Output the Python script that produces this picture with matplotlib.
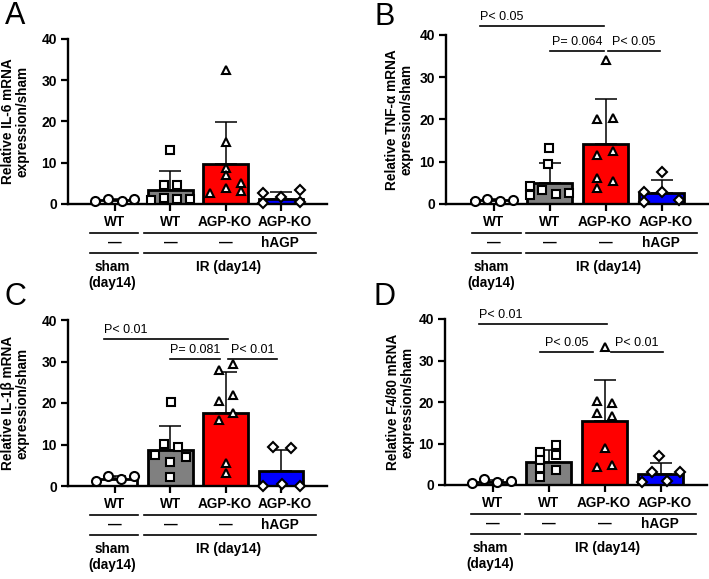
import matplotlib
matplotlib.use("Agg")
import matplotlib.pyplot as plt
from matplotlib.transforms import ScaledTranslation
import numpy as np

plt.rcParams['font.family'] = ['Liberation Sans', 'DejaVu Sans']

# ---------------- data ----------------
groups_genotype = ["WT", "WT", "AGP-KO", "AGP-KO"]
groups_treat = ["—", "—", "—", "hAGP"]
bar_colors = ["#ffffff", "#808080", "#ff0000", "#0000ff"]
markers = ["o", "s", "^", "D"]
marker_sizes = [6.5, 6.0, 6.0, 5.2]

ylabels = {
    "A": "Relative IL-6 mRNA\nexpression/sham",
    "B": "Relative TNF-\u03b1 mRNA\nexpression/sham",
    "C": "Relative IL-1\u03b2 mRNA\nexpression/sham",
    "D": "Relative F4/80 mRNA\nexpression/sham",
}

# bar means and upper SD
means_A = [0.9, 3.4, 9.6, 1.1]
sd_A = [0.2, 4.6, 10.3, 1.9]
means_B = [0.9, 5.0, 14.2, 2.7]
sd_B = [0.2, 4.6, 10.6, 3.0]
means_C = [1.8, 8.6, 17.6, 3.5]
sd_C = [0.6, 5.8, 9.8, 5.2]
means_D = [0.8, 5.5, 15.5, 2.65]
sd_D = [0.3, 2.9, 9.9, 2.55]

# individual points (values) and horizontal scatter offsets
pts_A = [
    [0.8, 1.3, 0.8, 1.1],
    [13.0, 4.6, 4.6, 0.9, 1.5, 1.1, 1.1],
    [32.4, 15.0, 8.8, 7.0, 3.9, 5.1, 3.2, 2.6],
    [2.7, 0.3, 1.8, 3.4, 0.55],
]
dx_A = [
    [-0.36, -0.12, 0.12, 0.34],
    [0.0, -0.12, 0.12, -0.35, -0.12, 0.12, 0.35],
    [0.0, 0.0, 0.0, 0.0, 0.0, 0.27, 0.27, -0.28],
    [-0.33, -0.33, 0.0, 0.34, 0.34],
]
pts_B = [
    [0.7, 1.1, 0.8, 1.0],
    [13.3, 9.4, 4.3, 2.1, 3.3, 2.4, 2.7],
    [34.2, 20.0, 20.3, 11.6, 12.6, 6.1, 5.4, 3.9],
    [2.9, 0.55, 2.9, 7.5, 0.95],
]
dx_B = [
    [-0.34, -0.12, 0.12, 0.34],
    [-0.01, -0.03, -0.35, -0.35, -0.13, 0.11, 0.34],
    [0.0, -0.15, 0.13, -0.15, 0.13, -0.15, 0.13, -0.15],
    [-0.32, -0.32, 0.0, 0.0, 0.32],
]
pts_C = [
    [1.2, 2.5, 1.7, 2.5],
    [20.2, 10.2, 9.5, 7.4, 7.1, 5.8, 2.2],
    [28.0, 29.4, 20.6, 22.0, 16.0, 17.6, 5.5, 3.1],
    [9.5, 9.2, 0.0, 0.6, 0.0],
]
dx_C = [
    [-0.35, -0.12, 0.11, 0.34],
    [0.02, -0.12, 0.14, -0.27, 0.28, 0.0, 0.0],
    [-0.13, 0.14, -0.13, 0.14, -0.13, 0.14, 0.0, 0.0],
    [-0.14, 0.18, -0.32, 0.01, 0.34],
]
pts_D = [
    [0.55, 1.4, 0.7, 1.0],
    [7.95, 6.0, 4.1, 1.9, 9.6, 7.2, 3.6],
    [33.2, 20.3, 19.7, 17.3, 16.7, 9.0, 4.3, 4.8],
    [7.1, 3.1, 3.1, 0.8, 1.0],
]
dx_D = [
    [-0.37, -0.15, 0.08, 0.32],
    [-0.15, -0.15, -0.15, -0.15, 0.14, 0.14, 0.14],
    [0.0, -0.13, 0.13, -0.13, 0.13, 0.0, -0.13, 0.13],
    [-0.02, -0.15, 0.35, -0.33, 0.12],
]

# significance annotations: (x_start, x_end, y, text, align)
sig_B = [(-0.25, 1.98, 42.1, "P< 0.05", "left"),
         (1.0, 1.98, 36.2, "P= 0.064", "center"),
         (2.05, 2.97, 36.2, "P< 0.05", "center")]
sig_C = [(-0.2, 2.05, 35.4, "P< 0.01", "left"),
         (1.0, 1.9, 30.6, "P= 0.081", "center"),
         (2.04, 2.93, 30.6, "P< 0.01", "center")]
sig_D = [(-0.25, 2.04, 38.8, "P< 0.01", "left"),
         (0.84, 1.8, 32.0, "P< 0.05", "center"),
         (2.11, 3.05, 32.0, "P< 0.01", "center")]

# ---------------- figure ----------------
W, H = 709, 579
fig = plt.figure(figsize=(W / 100, H / 100), dpi=100)


def px_axes(left, right, top, bottom):
    return fig.add_axes([left / W, 1 - bottom / H, (right - left) / W, (bottom - top) / H])


panels = {
    "A": dict(box=(68, 327, 39, 204), means=means_A, sd=sd_A, pts=pts_A, dx=dx_A, sig=[],
              ylx=-0.203, sham_line=(-0.46, 0.41), ir_line=(0.52, 3.63), letter=(5, 24)),
    "B": dict(box=(446, 708, 35, 204), means=means_B, sd=sd_B, pts=pts_B, dx=dx_B, sig=sig_B,
              ylx=-0.178, sham_line=(-0.38, 0.49), ir_line=(0.58, 3.63), letter=(375, 25)),
    "C": dict(box=(68, 327, 320, 486), means=means_C, sd=sd_C, pts=pts_C, dx=dx_C, sig=sig_C,
              ylx=-0.203, sham_line=(-0.46, 0.41), ir_line=(0.52, 3.63), letter=(4, 305)),
    "D": dict(box=(445, 707, 319, 485), means=means_D, sd=sd_D, pts=pts_D, dx=dx_D, sig=sig_D,
              ylx=-0.172, sham_line=(-0.38, 0.49), ir_line=(0.58, 3.63), letter=(374, 305)),
}

label_x = [0.0, 1.0, 1.98, 3.07]
treat_x = [0.0, 1.0, 2.0, 2.98]

x = np.arange(4)
for key, p in panels.items():
    ax = px_axes(*p["box"])
    ax.bar(x, p["means"], width=0.81, color=bar_colors, edgecolor="black",
           linewidth=2.0, zorder=1)
    ax.errorbar(x, p["means"], yerr=[np.zeros(4), p["sd"]], fmt="none",
                ecolor="black", elinewidth=1.1, capsize=8, capthick=1.1, zorder=2)
    for i in range(4):
        xs = x[i] + np.array(p["dx"][i])
        ax.plot(xs, p["pts"][i], linestyle="none", marker=markers[i],
                ms=marker_sizes[i], mfc="white", mec="black", mew=1.5,
                zorder=3, clip_on=False)
    ax.set_xlim(-0.85, 3.83)
    ax.set_ylim(0, 40)
    ax.set_yticks([0, 10, 20, 30, 40])
    ax.set_xticks(x)
    ax.set_xticklabels([])
    ax.spines["top"].set_visible(False)
    ax.spines["right"].set_visible(False)
    ax.spines["left"].set_linewidth(1.7)
    ax.spines["bottom"].set_linewidth(1.7)
    ax.tick_params(axis="both", direction="out", length=5, width=1.6, labelsize=10)
    for lab in ax.get_yticklabels():
        lab.set_fontweight("bold")
    ax.tick_params(axis="y", pad=3)
    ax.text(p["ylx"], 0.5, ylabels[key], transform=ax.transAxes, rotation=90,
            ha="center", va="center", fontsize=9.8, fontweight="bold",
            linespacing=1.05, multialignment="center")

    # group labels below axis
    def below_text(xv, off_pt, s):
        ax.annotate(s, xy=(xv, 0), xycoords=ax.get_xaxis_transform(),
                    xytext=(0, -off_pt), textcoords="offset points",
                    ha="center", va="center", fontsize=9.8, fontweight="bold",
                    annotation_clip=False)

    def below_line(x1, x2, off_pt):
        tr = ax.get_xaxis_transform() + ScaledTranslation(0, -off_pt / 72, fig.dpi_scale_trans)
        ax.plot([x1, x2], [0, 0], color="black", lw=1.2, transform=tr, clip_on=False)

    for i in range(4):
        below_text(label_x[i], 13, groups_genotype[i])
        below_text(treat_x[i], 28.1, groups_treat[i])
    for off in (20.7, 35.1):
        below_line(*p["sham_line"], off)
        below_line(*p["ir_line"], off)
    below_text(-0.05, 45.4, "sham")
    below_text(-0.05, 56.9, "(day14)")
    below_text(2.05, 45.4, "IR (day14)")

    # significance bars
    for x1, x2, yv, s, al in p["sig"]:
        ax.plot([x1, x2], [yv, yv], color="black", lw=1.2, clip_on=False, zorder=4)
        tx = x1 if al == "left" else (x1 + x2) / 2
        ax.annotate(s, xy=(tx, yv), xytext=(0, 2), textcoords="offset points",
                    ha=al, va="bottom", fontsize=9, annotation_clip=False)

    lx, ly = p["letter"]
    fig.text(lx / W, 1 - ly / H, key, fontsize=22, ha="left", va="baseline")

fig.savefig("out.png", dpi=100)
